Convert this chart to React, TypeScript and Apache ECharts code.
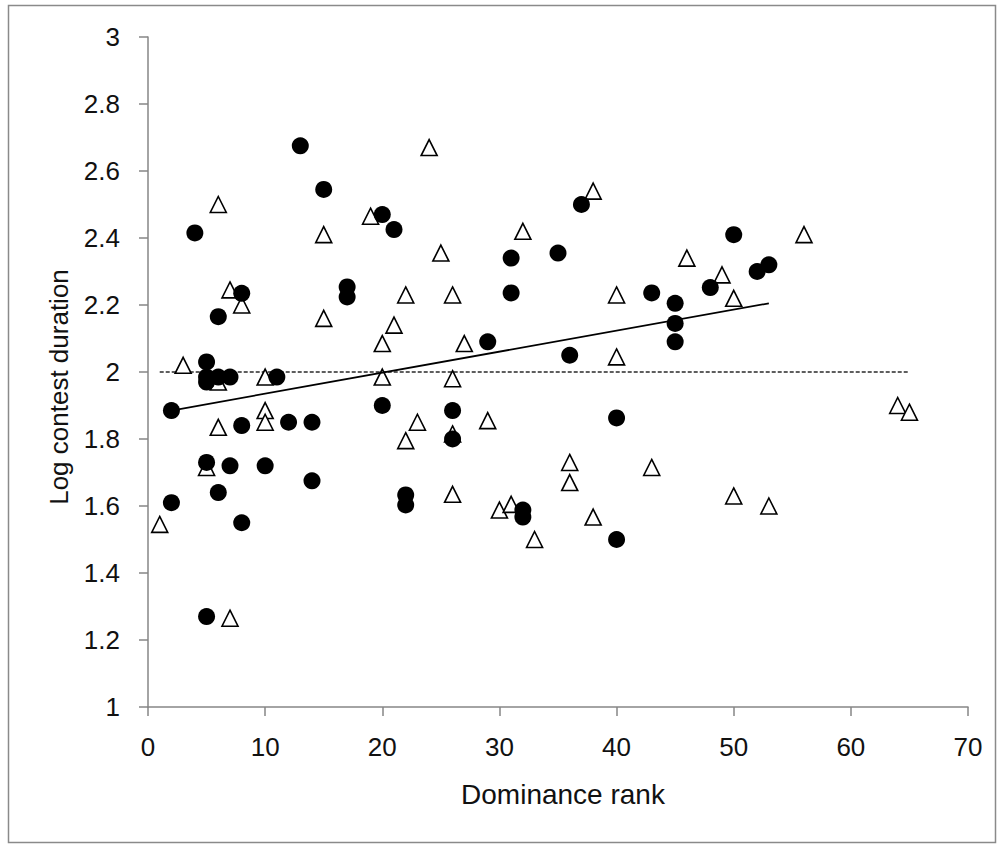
import React, { useEffect, useRef } from "react";
import * as echarts from "echarts";

// Filled circles
const circleX = [2, 2, 4, 5, 5, 5, 5, 5, 6, 6, 6, 7, 7, 8, 8, 8, 10, 11, 12, 13, 14, 14, 15, 17, 17, 20, 20, 21, 22, 22, 26, 26, 29, 31, 31, 32, 32, 35, 36, 37, 40, 40, 43, 45, 45, 45, 48, 50, 52, 53];
const circleY = [1.885, 1.61, 2.415, 2.03, 1.985, 1.97, 1.73, 1.27, 2.165, 1.985, 1.64, 1.985, 1.72, 2.235, 1.84, 1.55, 1.72, 1.985, 1.85, 2.675, 1.85, 1.675, 2.545, 2.254, 2.224, 2.47, 1.9, 2.425, 1.633, 1.603, 1.885, 1.8, 2.09, 2.34, 2.236, 1.588, 1.567, 2.355, 2.05, 2.5, 1.863, 1.5, 2.236, 2.205, 2.145, 2.09, 2.252, 2.41, 2.3, 2.32];

// Open triangles
const triX = [1, 3, 5, 6, 6, 6, 7, 7, 8, 10, 10, 10, 15, 15, 19, 20, 20, 21, 22, 22, 23, 24, 25, 26, 26, 26, 26, 27, 29, 30, 31, 32, 33, 36, 36, 38, 38, 40, 40, 43, 46, 49, 50, 50, 53, 56, 64, 65];
const triY = [1.545, 2.02, 1.715, 2.5, 1.97, 1.835, 2.245, 1.265, 2.2, 1.985, 1.885, 1.85, 2.41, 2.16, 2.465, 2.085, 1.985, 2.14, 2.23, 1.795, 1.85, 2.67, 2.355, 2.23, 1.98, 1.815, 1.635, 2.085, 1.855, 1.588, 1.605, 2.42, 1.5, 1.73, 1.67, 2.54, 1.567, 2.23, 2.045, 1.715, 2.34, 2.29, 2.22, 1.63, 1.6, 2.41, 1.9, 1.88];

// Trend line and reference line
const trendX = [2, 53];
const trendY = [1.885, 2.205];
const refX = [1, 65];
const refY = [2, 2];

const xTitle = "Dominance rank";
const yTitle = "Log contest duration";

const zip = (xs: number[], ys: number[]) => xs.map((x, i) => [x, ys[i]]);

const FONT = "'Liberation Sans', Arial, sans-serif";

export default function App() {
  const ref = useRef<HTMLDivElement>(null);
  useEffect(() => {
    if (!ref.current) return;
    const chart = echarts.init(ref.current, undefined, { renderer: "svg" });
    chart.setOption({
      animation: false,
      backgroundColor: "#ffffff",
      grid: { left: 148, right: 32, top: 37, bottom: 138, containLabel: false },
      xAxis: {
        type: "value",
        min: 0,
        max: 70,
        interval: 10,
        axisLine: { show: true, onZero: false, lineStyle: { color: "#868686", width: 1.5 } },
        axisTick: { show: true, inside: false, length: 9, lineStyle: { color: "#868686", width: 1.5 } },
        axisLabel: { color: "#111", fontSize: 26, fontFamily: FONT, margin: 27 },
        splitLine: { show: false },
      },
      yAxis: {
        type: "value",
        min: 1,
        max: 3,
        interval: 0.2,
        axisLine: { show: true, onZero: false, lineStyle: { color: "#868686", width: 1.5 } },
        axisTick: { show: true, inside: false, length: 9, lineStyle: { color: "#868686", width: 1.5 } },
        axisLabel: { color: "#111", fontSize: 26, fontFamily: FONT, margin: 28 },
        splitLine: { show: false },
      },
      graphic: [
        {
          type: "rect",
          shape: { x: 8.5, y: 5.5, width: 987, height: 837 },
          style: { fill: "none", stroke: "#8a8a8a", lineWidth: 1.5 },
          silent: true,
          z: -10,
        },
        {
          type: "text",
          x: 563,
          y: 794,
          style: { text: xTitle, fill: "#111", font: `28px ${FONT}`, align: "center", verticalAlign: "middle" },
        },
        {
          type: "text",
          x: 59,
          y: 387,
          rotation: Math.PI / 2,
          style: { text: yTitle, fill: "#111", font: `26px ${FONT}`, align: "center", verticalAlign: "middle" },
        },
      ],
      series: [
        {
          type: "line",
          data: zip(refX, refY),
          symbol: "none",
          lineStyle: { color: "#2a2a2a", width: 1.5, type: [4, 2] },
          z: 1,
        },
        {
          type: "scatter",
          data: zip(triX, triY),
          symbol: "triangle",
          symbolSize: 16,
          itemStyle: { color: "#ffffff", borderColor: "#000000", borderWidth: 1.6, opacity: 1 },
          z: 2,
        },
        {
          type: "line",
          data: zip(trendX, trendY),
          symbol: "none",
          lineStyle: { color: "#000000", width: 1.8 },
          z: 3,
        },
        {
          type: "scatter",
          data: zip(circleX, circleY),
          symbol: "circle",
          symbolSize: 17,
          itemStyle: { color: "#000000", opacity: 1 },
          z: 4,
        },
      ],
    });
    return () => chart.dispose();
  }, []);
  return (
    <div
      ref={ref}
      style={{ position: "absolute", left: 0, top: 0, width: 1000, height: 845 }}
    />
  );
}
